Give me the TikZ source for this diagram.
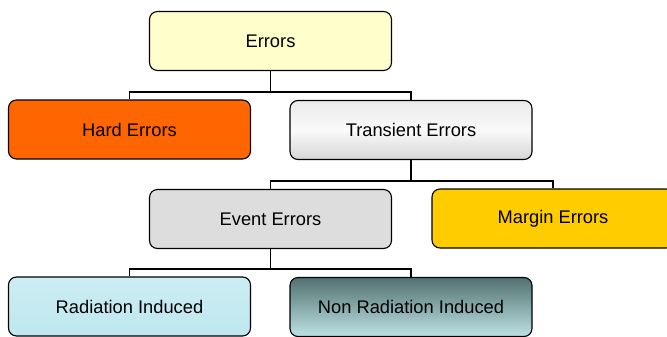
\documentclass[tikz,border=0pt]{standalone}
\usepackage{fontspec}
\setmainfont{Liberation Sans}
\usetikzlibrary{calc}
\definecolor{rootfill}{HTML}{FFFFCC}
\definecolor{hardfill}{HTML}{FF6600}
\definecolor{transfill}{HTML}{EAEAEA}
\definecolor{transdark}{HTML}{D6D6D6}
\definecolor{eventfill}{HTML}{DDDDDD}
\definecolor{marginfill}{HTML}{FFCC00}
\definecolor{radfill}{HTML}{BEE7EF}
\definecolor{radlight}{HTML}{CDEDF3}
\definecolor{nrtop}{HTML}{52706F}
\definecolor{nrmid}{HTML}{8DB2B3}
\definecolor{nrbottom}{HTML}{BDE2E5}
\tikzset{
  box/.style={draw=black, line width=1.1pt, rounded corners=8pt,
    minimum width=242pt, minimum height=59pt, inner sep=0pt,
    font=\fontsize{18.3}{22}\selectfont},
  link/.style={draw=black, line width=1.3pt}
}
\begin{document}
\begin{tikzpicture}[x=1pt,y=-1pt]
\useasboundingbox (0,0) rectangle (667,337);
\begin{scope}
\clip (0,0) rectangle (667,337);
% tree boxes
\node[box, top color=transfill, bottom color=transdark, middle color=white!96!gray] (trans) at (411,130) {Transient Errors};
\node[box, fill=rootfill] (errors) at (270.5,41) {Errors};
\node[box, fill=hardfill] (hard) at (129.5,129.5) {Hard Errors};
\node[box, fill=eventfill] (event) at (270.5,219) {Event Errors};
\node[box, fill=marginfill] (margin) at (553,218.5) {Margin Errors};
\node[box, top color=radlight, bottom color=radfill] (rad) at (129.5,306.5) {Radiation Induced};
\node[box, top color=nrtop, middle color=nrmid, bottom color=nrbottom] (nonrad) at (411,307) {Non Radiation Induced};
% junction points of the elbow connectors
\coordinate (j1) at (270.5,92);
\coordinate (j2) at (411,181);
\coordinate (j3) at (270.5,269);
\draw[link] (errors.south) -- (j1);
\draw[link] (hard.north) |- (j1) -| (trans.north);
\draw[link] (trans.south) -- (j2);
\draw[link] (event.north) |- (j2) -| (margin.north);
\draw[link] (event.south) -- (j3);
\draw[link] (rad.north) |- (j3) -| (nonrad.north);
\end{scope}
\end{tikzpicture}
\end{document}
